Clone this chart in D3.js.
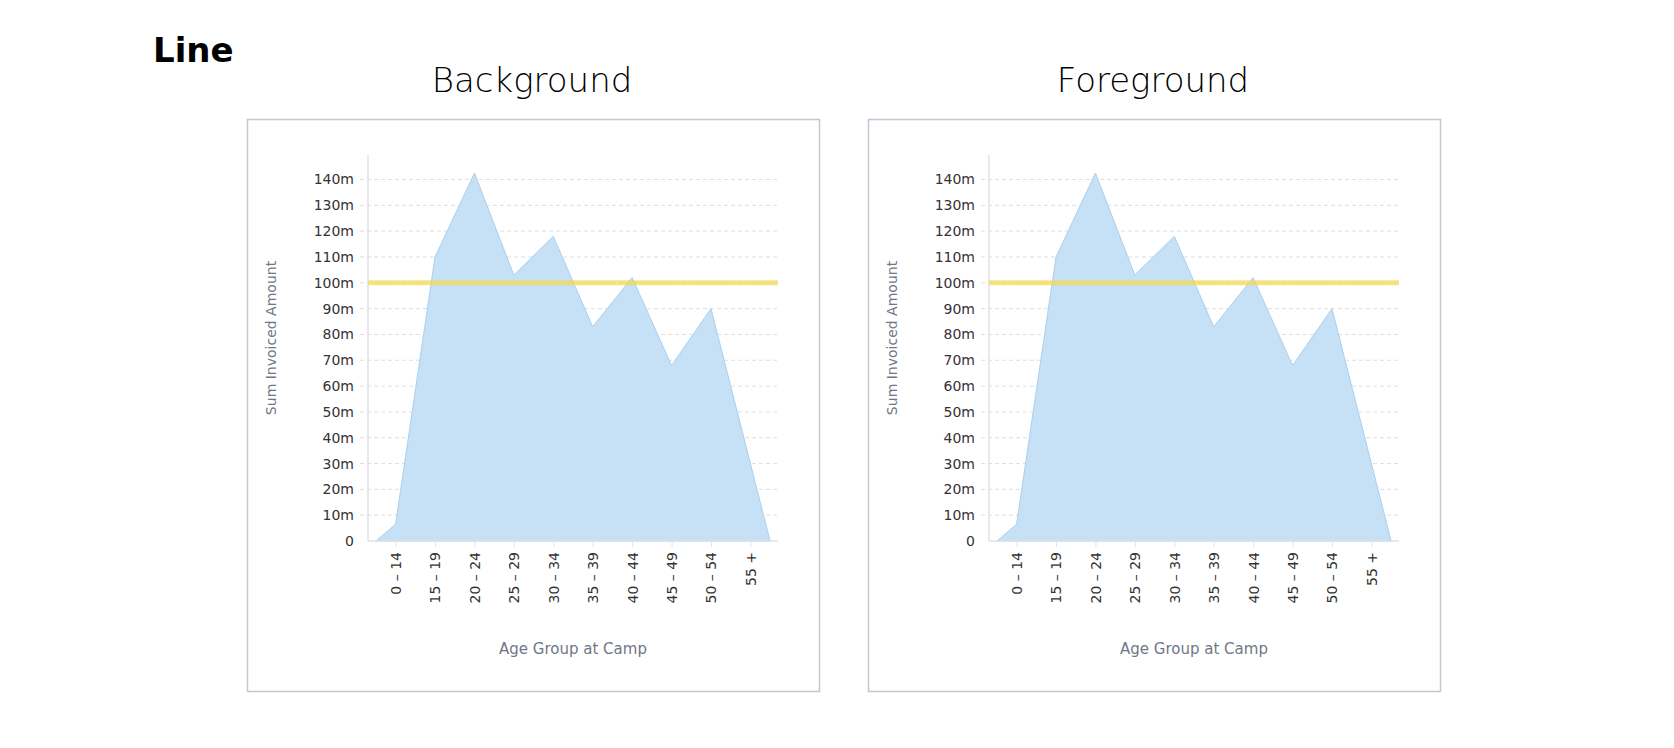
<!DOCTYPE html>
<html>
<head>
<meta charset="utf-8">
<script src="https://cdn.jsdelivr.net/npm/d3@7"></script>
<style>
  body { margin: 0; background: #fff; }
  text { font-family: "DejaVu Sans", sans-serif; }
</style>
</head>
<body>
<div id="chart"></div>
<script>
const categories = ["0 – 14", "15 – 19", "20 – 24", "25 – 29", "30 – 34", "35 – 39", "40 – 44", "45 – 49", "50 – 54", "55 +"];
const values = [6.5, 110, 142.5, 103, 118, 83, 102, 68, 90, 30]; // millions
const yTicks = [0, 10, 20, 30, 40, 50, 60, 70, 80, 90, 100, 110, 120, 130, 140];
const targetValue = 100;
const panels = ["Background", "Foreground"];

const svg = d3.select("#chart").append("svg")
  .attr("width", 1674).attr("height", 748);

svg.append("text")
  .attr("x", 153).attr("y", 62)
  .attr("font-family", "Roboto, sans-serif")
  .attr("font-weight", "bold").attr("font-size", 34)
  .text("Line");

// area points: zero anchors half a step outside the first/last category
const pts = [{ i: -0.5, v: 0 }]
  .concat(values.map((v, i) => ({ i: i === values.length - 1 ? null : i, v })).filter(d => d.i !== null))
  .concat([{ i: values.length - 0.5, v: 0 }]);

panels.forEach((title, p) => {
  const ox = p * 621;
  const g = svg.append("g").attr("transform", `translate(${ox},0)`);

  g.append("text")
    .attr("x", 532).attr("y", 92)
    .attr("text-anchor", "middle")
    .attr("font-family", "'Noto Sans CJK JP', sans-serif")
    .attr("font-weight", 300)
    .attr("font-size", 34)
    .text(title);

  g.append("rect")
    .attr("x", 247.5).attr("y", 119.5)
    .attr("width", 572).attr("height", 572)
    .attr("fill", "#fff").attr("stroke", "#c3c7d3").attr("stroke-width", 1.5);

  const x = d3.scaleLinear().domain([-0.7, 9.7]).range([368, 778]);
  const y = d3.scaleLinear().domain([0, 140]).range([541, 179.5]);

  // gridlines
  g.append("g").selectAll("line").data(yTicks.slice(1)).join("line")
    .attr("x1", 360).attr("x2", 778)
    .attr("y1", d => y(d)).attr("y2", d => y(d))
    .attr("stroke", "#dedede").attr("stroke-dasharray", "4,3");

  // y axis
  const yAxis = g.append("g").attr("transform", "translate(368,0)")
    .call(d3.axisLeft(y).tickValues(yTicks).tickSize(0).tickPadding(14)
      .tickFormat(d => d === 0 ? "0" : d + "m"));
  yAxis.select(".domain").remove();
  yAxis.selectAll("text").attr("font-size", 14).attr("fill", "#333");
  g.append("line").attr("x1", 368).attr("x2", 368).attr("y1", 155).attr("y2", 541)
    .attr("stroke", "#e0e2e8").attr("stroke-width", 1.5);

  // area
  const area = d3.area().x(d => x(d.i)).y0(y(0)).y1(d => y(d.v));
  g.append("path").datum(pts).attr("d", area)
    .attr("fill", "#c6e0f5").attr("stroke", "#a9d0f2").attr("stroke-width", 1);

  // target line
  g.append("line")
    .attr("x1", 368).attr("x2", 778)
    .attr("y1", y(targetValue)).attr("y2", y(targetValue))
    .attr("stroke", "#f3d94c").attr("stroke-opacity", 0.7).attr("stroke-width", 5);

  // x axis
  const xAxis = g.append("g").attr("transform", "translate(0,541)")
    .call(d3.axisBottom(x).tickValues(d3.range(categories.length)).tickSize(6)
      .tickFormat(i => categories[i]));
  xAxis.select(".domain").attr("d", "M368,0H778").attr("stroke", "#dfe2ea").attr("stroke-width", 1.5);
  xAxis.selectAll(".tick line").attr("stroke", "#dfe2ea");
  xAxis.selectAll("text")
    .attr("font-size", 14).attr("fill", "#333")
    .attr("transform", "rotate(-90)")
    .attr("text-anchor", "end")
    .attr("x", -11).attr("y", 0).attr("dy", "0.35em");

  g.append("text")
    .attr("transform", "translate(276,338) rotate(-90)")
    .attr("text-anchor", "middle")
    .attr("font-size", 14).attr("fill", "#707787")
    .text("Sum Invoiced Amount");

  g.append("text")
    .attr("x", 573).attr("y", 654)
    .attr("text-anchor", "middle")
    .attr("font-size", 15).attr("fill", "#707787")
    .text("Age Group at Camp");
});
</script>
</body>
</html>
